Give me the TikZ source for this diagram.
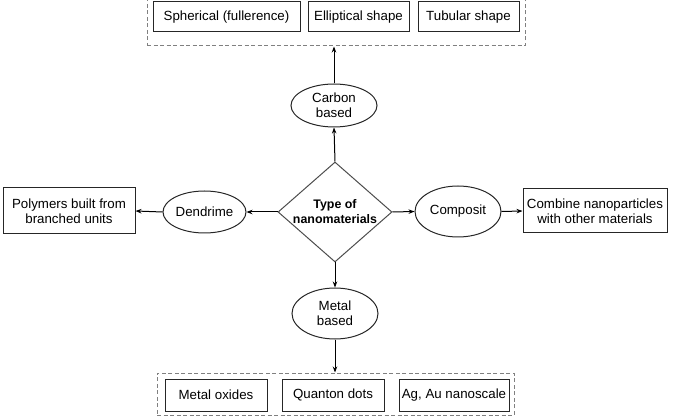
\documentclass[tikz,border=0pt]{standalone}
\usepackage{fontspec}
\setmainfont{Liberation Sans}
\usetikzlibrary{shapes.geometric,arrows.meta}
\begin{document}
\begin{tikzpicture}[x=1pt,y=-1pt,
  font=\fontsize{13.3}{15}\selectfont,
  box/.style={draw=black!85,line width=1pt,inner sep=0pt,align=center},
  oval/.style={draw=black!85,line width=1pt,ellipse,inner sep=0pt,align=center},
  grp/.style={draw=black!50,dashed,line width=1pt,dash pattern=on 4pt off 2.5pt},
  arr/.style={-{Stealth[length=6pt,width=4.5pt]},line width=1pt,black}]
\useasboundingbox (0,0) rectangle (673,417);
% top group
\node[grp,minimum width=378,minimum height=46] (topg) at (336,23) {};
\node[box,minimum width=147,minimum height=30] (sph) at (226.5,17) {Spherical (fullerence)};
\node[box,minimum width=101,minimum height=30] (ell) at (358.5,17) {Elliptical shape};
\node[box,minimum width=101,minimum height=30] (tub) at (468.5,17) {Tubular shape};
% center
\node[draw=black!70,line width=1pt,diamond,aspect=1.14,minimum width=114,minimum height=100,inner sep=-4pt,align=center,font=\fontsize{12.4}{15}\selectfont\bfseries] (type) at (335,212) {Type of\\nanomaterials};
\node[oval,minimum width=86,minimum height=43] (carbon) at (334,105.5) {Carbon\\based};
\node[oval,minimum width=83,minimum height=42] (dend) at (204.5,212) {Dendrime};
\node[oval,minimum width=86,minimum height=51] (comp) at (458,211.5) {Composit};
\node[oval,minimum width=86,minimum height=51] (metal) at (335,313.5) {Metal\\based};
\node[box,minimum width=132,minimum height=46] (poly) at (69,211) {Polymers built from\\branched units};
\node[box,minimum width=144,minimum height=44] (comb) at (595,211) {Combine nanoparticles\\with other materials};
% bottom group
\node[grp,minimum width=357,minimum height=42] (botg) at (335.5,394) {};
\node[box,minimum width=102,minimum height=32] (mox) at (216,395) {Metal oxides};
\node[box,minimum width=102,minimum height=32] (qd) at (333,395) {Quanton dots};
\node[box,minimum width=110,minimum height=32] (ag) at (454,395) {Ag, Au nanoscale};
% arrows
\draw[arr] (type.north) -- (carbon.south);
\draw[arr] (carbon.north) -- (carbon.north |- topg.south);
\draw[arr] (type.west) -- (dend.east);
\draw[arr] (dend.west) -- (poly.east);
\draw[arr] (type.east) -- (comp.west);
\draw[arr] (comp.east) -- (comb.west);
\draw[arr] (type.south) -- (metal.north);
\draw[arr] (metal.south) -- (metal.south |- botg.north);
\end{tikzpicture}
\end{document}
